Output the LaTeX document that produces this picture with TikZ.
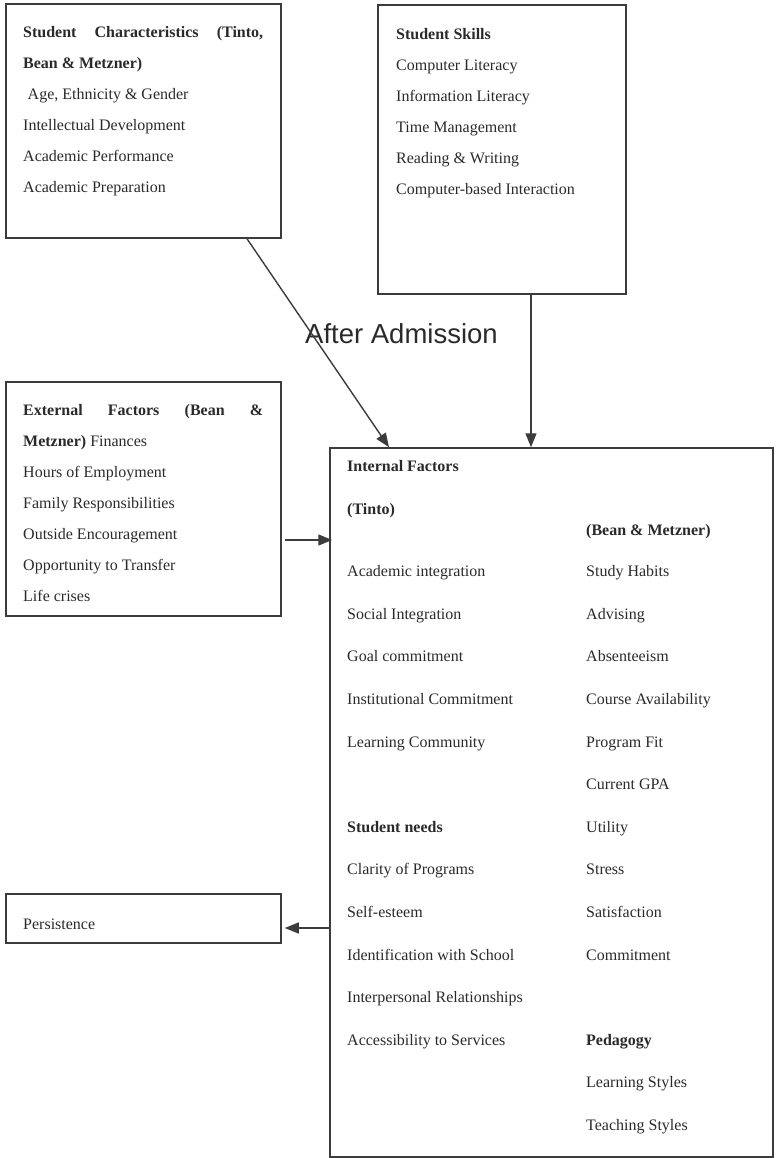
\documentclass[tikz,border=0pt]{standalone}
\usepackage{fontspec}
\setmainfont{Liberation Serif}
\newfontfamily\labelsans{Liberation Sans}
\usetikzlibrary{arrows.meta}
\definecolor{ink}{HTML}{2A2A2A}
\definecolor{rule}{HTML}{3C3C3C}
\begin{document}
\begin{tikzpicture}[x=1pt,y=-1pt,
  box/.style={draw=rule, line width=1.5pt, rectangle, inner sep=0pt},
  txt/.style={anchor=base west, inner sep=0pt, text=ink, font=\fontsize{16}{16}\selectfont},
  hd/.style={txt, font=\fontsize{16}{16}\selectfont\bfseries},
  arr/.style={draw=rule, line width=1.4pt, -{Triangle[length=14pt,width=11pt]}}]
\useasboundingbox (0,0) rectangle (779,1158);

% boxes
\node[box, minimum width=275pt, minimum height=234pt] (chars) at (143.5,121) {};
\node[box, minimum width=248pt, minimum height=289pt] (skills) at (502,149.5) {};
\node[box, minimum width=275pt, minimum height=234pt] (ext) at (143.5,499) {};
\node[box, minimum width=443pt, minimum height=709pt] (internal) at (551.5,802.5) {};
\node[box, minimum width=275pt, minimum height=49pt] (persist) at (143.5,918.5) {};

% student characteristics
\node[hd] (c0) at (23,37.5) {\makebox[240pt][s]{Student\hfill Characteristics\hfill (Tinto,}};
\node[hd] (c1) at (23,68.5) {Bean \& Metzner)};
\node[txt] (c2) at (27.5,99.5) {Age, Ethnicity \& Gender};
\node[txt] (c3) at (23,130.5) {Intellectual Development};
\node[txt] (c4) at (23,161.5) {Academic Performance};
\node[txt] (c5) at (23,192.5) {Academic Preparation};

% student skills
\node[hd] (s0) at (396,39.5) {Student Skills};
\node[txt] (s1) at (396,70.5) {Computer Literacy};
\node[txt] (s2) at (396,101.5) {Information Literacy};
\node[txt] (s3) at (396,132.5) {Time Management};
\node[txt] (s4) at (396,163.5) {Reading \& Writing};
\node[txt] (s5) at (396,194.5) {Computer-based Interaction};

% external factors
\node[hd] (e0) at (23,415) {\makebox[240pt][s]{External\hfill Factors\hfill (Bean\hfill \&}};
\node[txt] (e1) at (23,446) {\textbf{Metzner)} Finances};
\node[txt] (e2) at (23,477) {Hours of Employment};
\node[txt] (e3) at (23,508) {Family Responsibilities};
\node[txt] (e4) at (23,539) {Outside Encouragement};
\node[txt] (e5) at (23,570) {Opportunity to Transfer};
\node[txt] (e6) at (23,601) {Life crises};

% persistence
\node[txt] (p0) at (23,929) {Persistence};

% internal factors, left column
\node[hd] (i0) at (347,471) {Internal Factors};
\node[hd] (i1) at (347,514) {(Tinto)};
\node[txt] (l1) at (347,576.7) {Academic integration};
\node[txt] (l2) at (347,619.3) {Social Integration};
\node[txt] (l3) at (347,661.9) {Goal commitment};
\node[txt] (l4) at (347,704.5) {Institutional Commitment};
\node[txt] (l5) at (347,747.1) {Learning Community};
\node[hd] (l6) at (347,832.3) {Student needs};
\node[txt] (l7) at (347,874.9) {Clarity of Programs};
\node[txt] (l8) at (347,917.5) {Self-esteem};
\node[txt] (l9) at (347,960.1) {Identification with School};
\node[txt] (l10) at (347,1002.7) {Interpersonal Relationships};
\node[txt] (l11) at (347,1045.3) {Accessibility to Services};

% internal factors, right column
\node[hd] (r0) at (586,535) {(Bean \& Metzner)};
\node[txt] (r1) at (586,576.7) {Study Habits};
\node[txt] (r2) at (586,619.3) {Advising};
\node[txt] (r3) at (586,661.9) {Absenteeism};
\node[txt] (r4) at (586,704.5) {Course Availability};
\node[txt] (r5) at (586,747.1) {Program Fit};
\node[txt] (r6) at (586,789.7) {Current GPA};
\node[txt] (r7) at (586,832.3) {Utility};
\node[txt] (r8) at (586,874.9) {Stress};
\node[txt] (r9) at (586,917.5) {Satisfaction};
\node[txt] (r10) at (586,960.1) {Commitment};
\node[hd] (r11) at (586,1045.3) {Pedagogy};
\node[txt] (r12) at (586,1087.9) {Learning Styles};
\node[txt] (r13) at (586,1130.5) {Teaching Styles};

% caption between the upper boxes
\node[anchor=base west, inner sep=0pt, text=ink, font=\labelsans\fontsize{27.5}{27.5}\selectfont] (adm) at (305,343) {After Admission};

% connectors
\draw[arr] ([xshift=103.5pt]chars.south) -- ([xshift=-162.5pt]internal.north);
\draw[arr] ([xshift=29pt]skills.south) -- ([xshift=29pt]skills.south |- internal.north);
\draw[arr] ([shift={(3pt,-41pt)}]ext.east) -- ([shift={(3pt,-41pt)}]ext.east -| internal.west);
\draw[arr] ([yshift=-9.5pt]persist.east -| internal.west) -- ([shift={(3pt,-9.5pt)}]persist.east);
\end{tikzpicture}
\end{document}
